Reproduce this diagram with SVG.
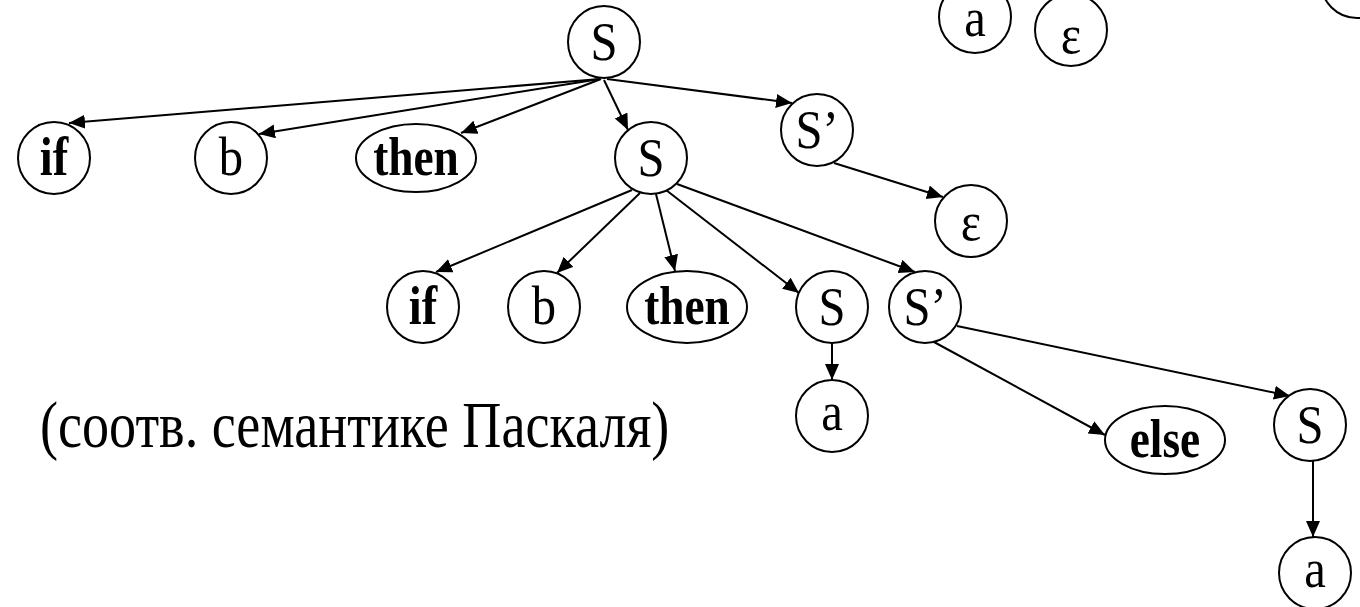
<svg xmlns="http://www.w3.org/2000/svg" width="1360" height="607" viewBox="0 0 1360 607">
  <style>
    .node circle, .node ellipse { fill: #ffffff; stroke: #000000; stroke-width: 2; }
    .node text { font-family: "Liberation Serif", "Times New Roman", serif; font-size: 54px; fill: #000000; text-anchor: middle; }
    .node text.kw { font-weight: bold; }
    .edges path { fill: none; stroke: #000000; stroke-width: 2; marker-end: url(#arrow); }
    .caption { font-family: "Liberation Serif", "Times New Roman", serif; font-size: 66px; fill: #000000; }
  </style>
  <defs>
    <marker id="arrow" markerUnits="userSpaceOnUse" markerWidth="18" markerHeight="16" refX="16" refY="7" orient="auto">
      <path d="M0,0 L16,7 L0,14 z" fill="#000000"/>
    </marker>
  </defs>
  <rect width="1360" height="607" fill="#ffffff"/>

  <!-- connectors -->
  <g id="edges" class="edges">
    <path d="M600,79 L69,123"/>
    <path d="M600,79 L259,134"/>
    <path d="M601,79 L461,133"/>
    <path d="M604,80 L628,130"/>
    <path d="M607,79 L792,103"/>
    <path d="M834,163 L943,197"/>
    <path d="M632,190 L436,272"/>
    <path d="M640,193 L557,273"/>
    <path d="M656,194 L675,271"/>
    <path d="M666,190 L799,293"/>
    <path d="M677,184 L915,272"/>
    <path d="M832,343 L832,380"/>
    <path d="M934,342 L1105,435"/>
    <path d="M957,326 L1290,396"/>
    <path d="M1313,461 L1313,537"/>
  </g>

  <!-- loose nodes along the top edge -->
  <g id="n_a_top" class="node"><circle cx="975" cy="17" r="36"/><text transform="translate(975,36) scale(0.9,1)">a</text></g>
  <g id="n_eps_top" class="node"><circle cx="1071" cy="30" r="36"/><text transform="translate(1071,53) scale(0.9,1)">ε</text></g>
  <g id="n_corner" class="node"><circle cx="1357" cy="-18" r="36"/></g>

  <!-- root -->
  <g id="n_S0" class="node"><circle cx="604" cy="42" r="36"/><text transform="translate(604,60) scale(0.9,1)">S</text></g>

  <!-- first level -->
  <g id="n_if1" class="node"><circle cx="54" cy="158" r="36"/><text class="kw" transform="translate(54,175) scale(0.86,1)">if</text></g>
  <g id="n_b1" class="node"><circle cx="231" cy="158" r="36"/><text transform="translate(231,175) scale(0.9,1)">b</text></g>
  <g id="n_then1" class="node"><ellipse cx="416" cy="158" rx="60" ry="34"/><text class="kw" transform="translate(416,175) scale(0.84,1)">then</text></g>
  <g id="n_S1" class="node"><circle cx="651" cy="158" r="36"/><text transform="translate(651,176) scale(0.9,1)">S</text></g>
  <g id="n_Sp1" class="node"><circle cx="817" cy="130" r="36"/><text transform="translate(817,148) scale(0.9,1)">S’</text></g>
  <g id="n_eps1" class="node"><circle cx="971" cy="221" r="36"/><text transform="translate(971,240) scale(0.9,1)">ε</text></g>

  <!-- second level -->
  <g id="n_if2" class="node"><circle cx="423" cy="307" r="36"/><text class="kw" transform="translate(423,324) scale(0.86,1)">if</text></g>
  <g id="n_b2" class="node"><circle cx="544" cy="307" r="36"/><text transform="translate(544,324) scale(0.9,1)">b</text></g>
  <g id="n_then2" class="node"><ellipse cx="687" cy="307" rx="60" ry="36"/><text class="kw" transform="translate(687,324) scale(0.84,1)">then</text></g>
  <g id="n_S2" class="node"><circle cx="832" cy="307" r="36"/><text transform="translate(832,325) scale(0.9,1)">S</text></g>
  <g id="n_Sp2" class="node"><circle cx="925" cy="307" r="36"/><text transform="translate(925,325) scale(0.9,1)">S’</text></g>

  <!-- third level and below -->
  <g id="n_a2" class="node"><circle cx="832" cy="416" r="36"/><text transform="translate(832,430) scale(0.9,1)">a</text></g>
  <g id="n_else" class="node"><ellipse cx="1165" cy="440" rx="60" ry="34"/><text class="kw" transform="translate(1165,457) scale(0.84,1)">else</text></g>
  <g id="n_S3" class="node"><circle cx="1310" cy="425" r="36"/><text transform="translate(1310,443) scale(0.9,1)">S</text></g>
  <g id="n_a3" class="node"><circle cx="1315" cy="573" r="36"/><text transform="translate(1315,587) scale(0.9,1)">a</text></g>

  <text class="caption" transform="translate(40,447) scale(0.82,1)">(соотв. семантике Паскаля)</text>
</svg>
